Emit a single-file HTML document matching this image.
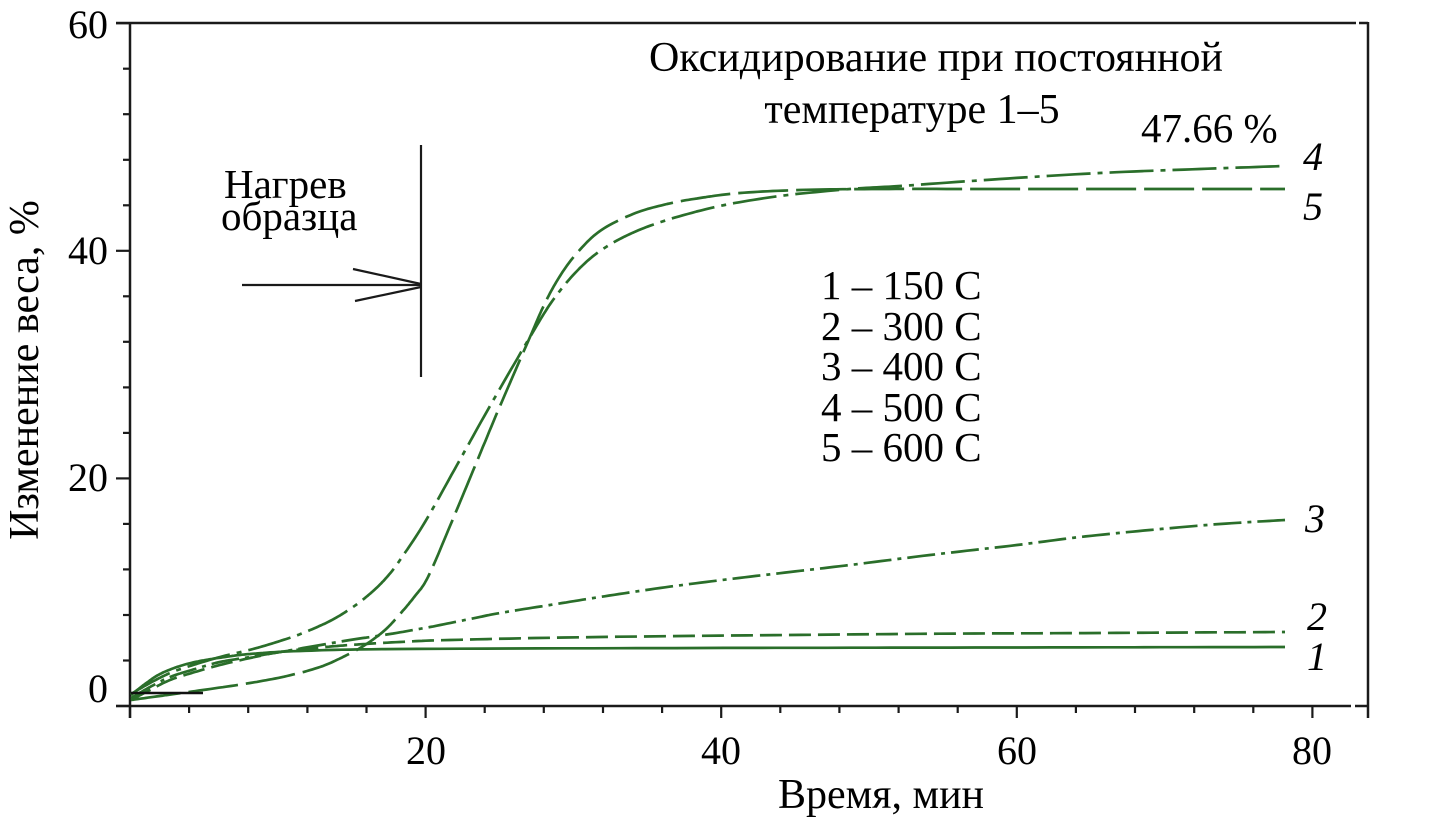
<!DOCTYPE html>
<html>
<head>
<meta charset="utf-8">
<style>
  html, body { margin: 0; padding: 0; background: #fff; }
  svg { display: block; }
  text { font-family: "Liberation Serif", "DejaVu Serif", serif; fill: #000; }
</style>
</head>
<body>
<svg width="1434" height="817" viewBox="0 0 1434 817" xmlns="http://www.w3.org/2000/svg">
  <rect width="1434" height="817" fill="#fff"/>

  <!-- Frame / axes -->
  <g stroke="#1a1a1a" stroke-width="2.5" fill="none">
    <line x1="116" y1="23" x2="1356" y2="23"/>
    <line x1="1359" y1="23" x2="1368" y2="23"/>
    <line x1="130" y1="22" x2="130" y2="718"/>
    <line x1="1368" y1="22" x2="1368" y2="718"/>
    <line x1="116" y1="706" x2="1351" y2="706"/>
    <line x1="1355" y1="706" x2="1368" y2="706"/>
  </g>

  <!-- Y ticks -->
  <g stroke="#1a1a1a" stroke-width="2.2">
    <line x1="116" y1="706" x2="130" y2="706"/>
    <line x1="123" y1="660.5" x2="130" y2="660.5"/>
    <line x1="123" y1="615" x2="130" y2="615"/>
    <line x1="123" y1="569.4" x2="130" y2="569.4"/>
    <line x1="123" y1="523.9" x2="130" y2="523.9"/>
    <line x1="116" y1="478.4" x2="130" y2="478.4"/>
    <line x1="123" y1="432.9" x2="130" y2="432.9"/>
    <line x1="123" y1="387.4" x2="130" y2="387.4"/>
    <line x1="123" y1="341.8" x2="130" y2="341.8"/>
    <line x1="123" y1="296.3" x2="130" y2="296.3"/>
    <line x1="116" y1="250.8" x2="130" y2="250.8"/>
    <line x1="123" y1="205.3" x2="130" y2="205.3"/>
    <line x1="123" y1="159.8" x2="130" y2="159.8"/>
    <line x1="123" y1="114.2" x2="130" y2="114.2"/>
    <line x1="123" y1="68.7" x2="130" y2="68.7"/>
    <line x1="116" y1="23.2" x2="130" y2="23.2"/>
  </g>

  <!-- X ticks -->
  <g stroke="#1a1a1a" stroke-width="2.2">
    <line x1="130" y1="706" x2="130" y2="718"/>
    <line x1="189.1" y1="706" x2="189.1" y2="713"/>
    <line x1="248.2" y1="706" x2="248.2" y2="713"/>
    <line x1="307.4" y1="706" x2="307.4" y2="713"/>
    <line x1="366.5" y1="706" x2="366.5" y2="713"/>
    <line x1="425.6" y1="706" x2="425.6" y2="718"/>
    <line x1="484.7" y1="706" x2="484.7" y2="713"/>
    <line x1="543.8" y1="706" x2="543.8" y2="713"/>
    <line x1="603" y1="706" x2="603" y2="713"/>
    <line x1="662.1" y1="706" x2="662.1" y2="713"/>
    <line x1="721.2" y1="706" x2="721.2" y2="718"/>
    <line x1="780.3" y1="706" x2="780.3" y2="713"/>
    <line x1="839.4" y1="706" x2="839.4" y2="713"/>
    <line x1="898.6" y1="706" x2="898.6" y2="713"/>
    <line x1="957.7" y1="706" x2="957.7" y2="713"/>
    <line x1="1016.8" y1="706" x2="1016.8" y2="718"/>
    <line x1="1075.9" y1="706" x2="1075.9" y2="713"/>
    <line x1="1135" y1="706" x2="1135" y2="713"/>
    <line x1="1194.2" y1="706" x2="1194.2" y2="713"/>
    <line x1="1253.3" y1="706" x2="1253.3" y2="713"/>
    <line x1="1312.4" y1="706" x2="1312.4" y2="718"/>
  </g>

  <!-- Tick labels -->
  <g font-size="40">
    <text x="108" y="702" text-anchor="end">0</text>
    <text x="108" y="491" text-anchor="end">20</text>
    <text x="108" y="264" text-anchor="end">40</text>
    <text x="108" y="38" text-anchor="end">60</text>
    <text x="426" y="764" text-anchor="middle">20</text>
    <text x="721" y="764" text-anchor="middle">40</text>
    <text x="1017" y="764" text-anchor="middle">60</text>
    <text x="1312" y="764" text-anchor="middle">80</text>
  </g>

  <!-- Axis titles -->
  <text x="881" y="808" font-size="42" text-anchor="middle">Время, мин</text>
  <text transform="translate(38,370) rotate(-90)" font-size="42" text-anchor="middle">Изменение веса, %</text>

  <!-- Title -->
  <text x="936" y="71" font-size="42" text-anchor="middle">Оксидирование при постоянной</text>
  <text x="912" y="123" font-size="42" text-anchor="middle">температуре 1–5</text>
  <text x="1141" y="142" font-size="41">47.66 %</text>

  <!-- Legend -->
  <g font-size="41">
    <text x="821" y="299">1 – 150 C</text>
    <text x="821" y="340">2 – 300 C</text>
    <text x="821" y="380">3 – 400 C</text>
    <text x="821" y="421">4 – 500 C</text>
    <text x="821" y="461">5 – 600 C</text>
  </g>

  <!-- Heating annotation -->
  <text x="224" y="198" font-size="41">Нагрев</text>
  <text x="221" y="230" font-size="41">образца</text>
  <g stroke="#1a1a1a" stroke-width="2.2" fill="none">
    <line x1="421" y1="145" x2="421" y2="377"/>
    <line x1="242" y1="285" x2="421" y2="285"/>
    <line x1="353" y1="269" x2="421" y2="284"/>
    <line x1="355" y1="301" x2="421" y2="287"/>
  </g>

  <!-- Series -->
  <g fill="none" stroke="#2a6e2a" stroke-width="2.7" stroke-linejoin="round" stroke-linecap="butt">
    <!-- 1: solid -->
    <polyline class="sm" points="131,695 145,684 160,674 180,666 200,661 225,657 250,654 300,651 400,649 700,648 1000,647.5 1285,647"/>
    <!-- 2: dashed -->
    <polyline class="sm" stroke-dasharray="22 7" points="131,700 150,690 170,680 195,672 220,665 250,658 280,652 315,648 350,645 400,642 450,640 600,637 900,634 1100,633 1285,632"/>
    <!-- 3: dash-dot -->
    <polyline class="sm" stroke-dasharray="28 6 4 6" points="131,698 150,687 170,677 195,669 220,662 250,657 280,652 315,646 350,640 390,634 430,627 470,619 500,613 550,605 600,597 660,588 722,580 790,572 850,565 930,555 1017,545 1080,537 1150,530 1220,524 1285,520"/>
    <!-- 4: dash-dot long (early riser) -->
    <polyline class="sm" stroke-dasharray="44 7 5 7" points="131,694 150,683 170,673 190,666 220,657 253,649 280,641 303,633 330,621 353,607 372,592 387,577 400,560 425,522 457,465 490,406 530,337 553,300 577,271 600,251 630,234 667,220 720,206 780,196 850,189 900,186 1000,179 1100,173 1200,169 1285,166"/>
    <!-- 5: long dash (late riser) -->
    <polyline class="sm" stroke-dasharray="50 8" points="131,700 160,696 203,690 250,683 287,676 320,667 345,656 365,645 385,630 400,614 415,596 428,577 450,526 475,466 500,406 530,337 545,303 560,276 577,253 600,231 633,214 667,204 700,198 740,193 800,190 880,189 1000,189 1285,189"/>
  </g>
  <!-- black start artifact -->
  <line x1="131" y1="693" x2="203" y2="693" stroke="#111" stroke-width="2.5"/>

  <!-- Curve labels -->
  <g font-size="40" font-style="italic">
    <text x="1303" y="170">4</text>
    <text x="1303" y="220">5</text>
    <text x="1305" y="532">3</text>
    <text x="1307" y="630">2</text>
    <text x="1307" y="670">1</text>
  </g>
</svg>
<script>
(function(){
  var els = document.querySelectorAll('polyline.sm');
  for (var k = 0; k < els.length; k++) {
    var el = els[k];
    var raw = el.getAttribute('points').trim().split(/\s+/).map(function(s){
      var a = s.split(','); return [parseFloat(a[0]), parseFloat(a[1])];
    });
    var out = [];
    for (var i = 0; i < raw.length - 1; i++) {
      var p0 = raw[Math.max(i-1,0)], p1 = raw[i], p2 = raw[i+1], p3 = raw[Math.min(i+2, raw.length-1)];
      var n = 12;
      for (var j = 0; j < n; j++) {
        var t = j / n, t2 = t*t, t3 = t2*t;
        var x = 0.5*((2*p1[0]) + (-p0[0]+p2[0])*t + (2*p0[0]-5*p1[0]+4*p2[0]-p3[0])*t2 + (-p0[0]+3*p1[0]-3*p2[0]+p3[0])*t3);
        var y = 0.5*((2*p1[1]) + (-p0[1]+p2[1])*t + (2*p0[1]-5*p1[1]+4*p2[1]-p3[1])*t2 + (-p0[1]+3*p1[1]-3*p2[1]+p3[1])*t3);
        out.push(x.toFixed(1) + ',' + y.toFixed(1));
      }
    }
    var last = raw[raw.length-1];
    out.push(last[0] + ',' + last[1]);
    el.setAttribute('points', out.join(' '));
  }
})();
</script>
</body>
</html>
